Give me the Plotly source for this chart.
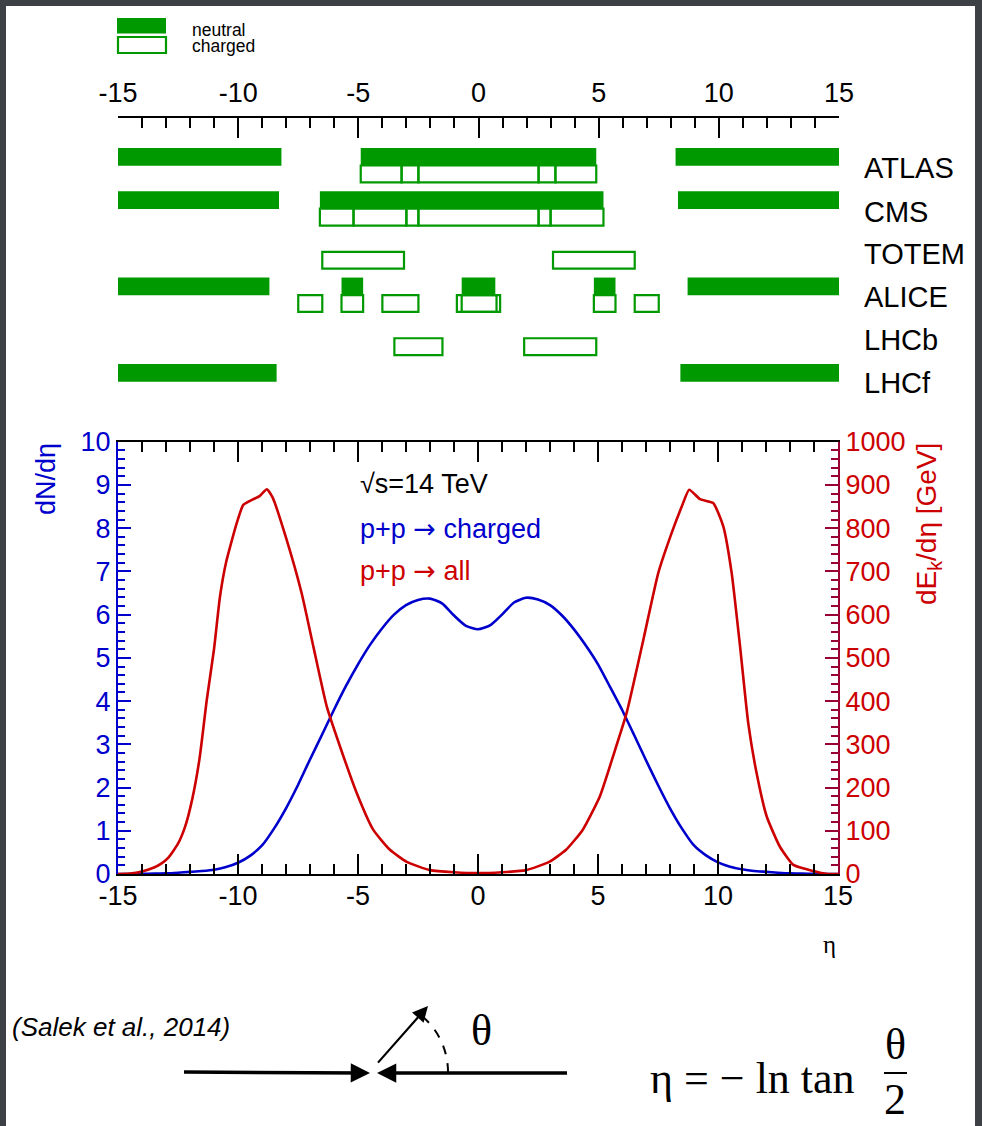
import plotly.graph_objects as go

W, H = 982, 1126


def px(x):
    return x / W


def py(y):
    return 1 - y / H


# ---------------- data ----------------
eta_ticks = [-15, -10, -5, 0, 5, 10, 15]
eta_tick_labels = ["-15", "-10", "-5", "0", "5", "10", "15"]

experiments = ["ATLAS", "CMS", "TOTEM", "ALICE", "LHCb", "LHCf"]

# acceptance ranges (eta_min, eta_max)
atlas_neutral = [(-15, -8.2), (-4.9, 4.9), (8.2, 15)]
atlas_charged = [(-4.9, -3.2), (-3.2, -2.5), (-2.5, 2.5), (2.5, 3.2), (3.2, 4.9)]
cms_neutral = [(-15, -8.3), (-6.6, 5.2), (8.3, 15)]
cms_charged = [(-6.6, -5.2), (-5.2, -3.0), (-3.0, -2.5), (-2.5, 2.5), (2.5, 3.0), (3.0, 5.2)]
totem_neutral = []
totem_charged = [(-6.5, -3.1), (3.1, 6.5)]
alice_neutral = [(-15, -8.7), (-5.7, -4.8), (-0.7, 0.7), (4.8, 5.7), (8.7, 15)]
alice_charged = [(-7.5, -6.5), (-5.7, -4.8), (-4.0, -2.5), (-0.9, 0.9), (-0.7, 0.75),
                 (4.8, 5.7), (6.5, 7.5)]
lhcb_neutral = []
lhcb_charged = [(-3.5, -1.5), (1.9, 4.9)]
lhcf_neutral = [(-15, -8.4), (8.4, 15)]
lhcf_charged = []

neutral_rows = [atlas_neutral, cms_neutral, totem_neutral, alice_neutral, lhcb_neutral, lhcf_neutral]
charged_rows = [atlas_charged, cms_charged, totem_charged, alice_charged, lhcb_charged, lhcf_charged]

# dN/deta (charged), pp 14 TeV
eta_ch = [-15, -14.5, -14, -13.5, -13, -12.5, -12, -11.5, -11, -10.5, -10, -9.5, -9, -8.5,
          -8, -7.5, -7, -6.5, -6, -5.5, -5, -4.5, -4, -3.5, -3, -2.5, -2, -1.5, -1, -0.5, 0,
          0.5, 1, 1.5, 2, 2.5, 3, 3.5, 4, 4.5, 5, 5.5, 6, 6.5, 7, 7.5, 8, 8.5, 9, 9.5, 10,
          10.5, 11, 11.5, 12, 12.5, 13, 13.5, 14, 14.5, 15]
dn_deta = [0, 0, 0.005, 0.01, 0.015, 0.03, 0.05, 0.07, 0.10, 0.16, 0.26, 0.42, 0.66, 1.05,
           1.52, 2.06, 2.65, 3.22, 3.80, 4.35, 4.85, 5.30, 5.68, 6.00, 6.22, 6.34, 6.37, 6.26,
           5.98, 5.74, 5.66,
           5.75, 6.00, 6.28, 6.39, 6.35, 6.22, 5.98, 5.66, 5.28, 4.85, 4.33, 3.80, 3.22, 2.63,
           2.06, 1.52, 1.05, 0.66, 0.43, 0.27, 0.17, 0.11, 0.07, 0.05, 0.03, 0.015, 0.01,
           0.005, 0, 0]

# dE_k/deta (all), GeV
eta_all = [-15, -14.5, -14, -13.5, -13.2, -12.9, -12.5, -12.2, -11.9, -11.6, -11.3, -11.0,
           -10.75, -10.5, -10.05, -9.78, -9.4, -9.1, -8.8, -8.55, -8.0, -7.35, -6.86, -6.3,
           -5.75, -5.05, -4.36, -3.67, -2.97, -2.0, -1.0, 0,
           1.0, 2.0, 2.97, 3.67, 4.36, 5.08, 5.7, 6.19, 6.89, 7.51, 8.07, 8.49, 8.8, 9.25,
           9.8, 10.22, 10.57, 10.92, 11.26, 11.61, 12.03, 12.58, 13.14, 13.7, 14.25, 14.6, 15]
de_deta = [0, 1, 6, 15, 24, 38, 70, 110, 175, 268, 403, 520,
           642, 720, 812, 854, 866, 874, 890, 870, 778, 650, 526, 387,
           295, 187, 102, 56, 28, 9, 4, 2,
           4, 9, 28, 56, 102, 180, 285, 372, 542, 696, 789, 850, 889, 867,
           858, 804, 696, 526, 349, 233, 133, 63, 21, 11, 3, 0, 0]

GREEN = "#009900"
BLUE = "#0000cc"
RED = "#cc0000"
MAROON = "#990033"
SANS = "Liberation Sans, Arial, sans-serif"
SERIF = "Liberation Serif, Times New Roman, serif"
TICK = 27
ARROW = '<span style="font-family:DejaVu Sans">→</span>'

fig = go.Figure()

# ---------------- acceptance bars ----------------
ny, nx, nb, nw = [], [], [], []
cy, cx, cb, cw = [], [], [], []
for i, rngs in enumerate(neutral_rows):
    for a, b in rngs:
        ny.append(i - 0.2)
        nb.append(a)
        nx.append(b - a)
        nw.append(0.41)
for i, rngs in enumerate(charged_rows):
    for a, b in rngs:
        cy.append(i + 0.195)
        cb.append(a)
        cx.append(b - a)
        cw.append(0.39)

fig.add_trace(go.Bar(orientation="h", y=ny, x=nx, base=nb, width=nw,
                     marker=dict(color=GREEN, line=dict(width=0)),
                     xaxis="x2", yaxis="y2", hoverinfo="skip"))
fig.add_trace(go.Bar(orientation="h", y=cy, x=cx, base=cb, width=cw,
                     marker=dict(color="rgba(0,0,0,0)", line=dict(color=GREEN, width=2.2)),
                     xaxis="x2", yaxis="y2", hoverinfo="skip"))

# ---------------- curves ----------------
fig.add_trace(go.Scatter(x=eta_ch, y=dn_deta, mode="lines",
                         line=dict(color=BLUE, width=2.6, shape="spline", smoothing=0.6),
                         xaxis="x", yaxis="y"))
fig.add_trace(go.Scatter(x=eta_all, y=de_deta, mode="lines",
                         line=dict(color=RED, width=2.6, shape="spline", smoothing=0.5),
                         xaxis="x", yaxis="y3"))

# ---------------- layout ----------------
fig.update_layout(
    width=W, height=H, autosize=False,
    margin=dict(l=0, r=0, t=0, b=0, pad=0, autoexpand=False),
    paper_bgcolor="#3d4045",
    plot_bgcolor="rgba(0,0,0,0)",
    showlegend=False,
    barmode="overlay",
    font=dict(family=SANS, color="black"),
    xaxis=dict(domain=[px(118), px(838)], range=[-15, 15], anchor="y", automargin=False,
               showline=True, linecolor="black", linewidth=2, mirror="ticks",
               ticks="inside", ticklen=20, tickwidth=1.5, tickcolor="black",
               tickmode="array", tickvals=eta_ticks, ticktext=eta_tick_labels,
               tickfont=dict(size=TICK, color="black", family=SANS),
               ticklabelstandoff=-3,
               minor=dict(ticks="inside", ticklen=10, dtick=1, tick0=-15,
                          tickcolor="black", tickwidth=1.5),
               showgrid=False, zeroline=False),
    yaxis=dict(domain=[py(874), py(441.7)], range=[0, 10], anchor="x", automargin=False,
               showline=True, linecolor=BLUE, linewidth=2,
               ticks="inside", ticklen=13, tickwidth=1.5, tickcolor=BLUE, dtick=1,
               tickfont=dict(size=TICK, color=BLUE, family=SANS),
               minor=dict(ticks="inside", ticklen=7, dtick=0.2, tickcolor=BLUE, tickwidth=1.5),
               showgrid=False, zeroline=False),
    yaxis3=dict(overlaying="y", side="right", anchor="x", range=[0, 1000], automargin=False,
                showline=True, linecolor=MAROON, linewidth=2,
                ticks="inside", ticklen=13, tickwidth=1.5, tickcolor=MAROON, dtick=100,
                tickfont=dict(size=TICK, color=RED, family=SANS),
                minor=dict(ticks="inside", ticklen=7, dtick=20, tickcolor=MAROON, tickwidth=1.5),
                showgrid=False, zeroline=False),
    xaxis2=dict(domain=[px(118), px(839)], range=[-15, 15], anchor="y2", side="top",
                automargin=False,
                showline=True, linecolor="black", linewidth=1.5,
                ticks="inside", ticklen=20, tickwidth=1.5, tickcolor="black",
                tickmode="array", tickvals=eta_ticks, ticktext=eta_tick_labels,
                tickfont=dict(size=TICK, color="black", family=SANS),
                ticklabelstandoff=3,
                minor=dict(ticks="inside", ticklen=10, dtick=1, tick0=-15,
                           tickcolor="black", tickwidth=1.5),
                showgrid=False, zeroline=False),
    yaxis2=dict(domain=[py(400), py(118)], range=[5.43, -1.10], anchor="x2",
                automargin=False, visible=False, showgrid=False, zeroline=False),
)

shapes = []
# white slide area
shapes.append(dict(type="rect", xref="paper", yref="paper", layer="below",
                   x0=px(6), x1=px(975), y0=py(1126), y1=py(6),
                   fillcolor="white", line=dict(width=0)))
# legend swatches
shapes.append(dict(type="rect", xref="paper", yref="paper",
                   x0=px(117), x1=px(166), y0=py(33.5), y1=py(18),
                   fillcolor=GREEN, line=dict(width=0)))
shapes.append(dict(type="rect", xref="paper", yref="paper",
                   x0=px(118), x1=px(166), y0=py(53), y1=py(37),
                   fillcolor="rgba(0,0,0,0)", line=dict(color=GREEN, width=2.2)))
# dashed angle arc
P = [(448, 1072), (448, 1050), (438.1, 1029.1), (421, 1015.3)]
path = "M {},{} C {},{} {},{} {},{}".format(
    px(P[0][0]), py(P[0][1]), px(P[1][0]), py(P[1][1]),
    px(P[2][0]), py(P[2][1]), px(P[3][0]), py(P[3][1]))
shapes.append(dict(type="path", xref="paper", yref="paper", path=path,
                   line=dict(color="black", width=2, dash="dash")))
# fraction bar
shapes.append(dict(type="line", xref="paper", yref="paper",
                   x0=px(884), x1=px(907), y0=py(1073), y1=py(1073),
                   line=dict(color="black", width=2)))
fig.update_layout(shapes=shapes)

ann = []


def text(x, y, s, size, color="black", family=SANS, xanchor="left", yanchor="middle",
         angle=0):
    ann.append(dict(x=px(x), y=py(y), xref="paper", yref="paper", text=s, showarrow=False,
                    xanchor=xanchor, yanchor=yanchor, textangle=angle,
                    font=dict(size=size, color=color, family=family)))


text(190, 30, "neutral", 17.5)
text(190, 46, "charged", 17.5)
row_label_y = [168, 212, 254, 297, 340, 383]
for name, yy in zip(experiments, row_label_y):
    text(862, yy, name, 29)

text(358, 484, "√s=14 TeV", 27)
text(358, 528, "p+p " + ARROW + " charged", 27, BLUE)
text(358, 570, "p+p " + ARROW + " all", 27, RED)

text(46, 479, "dN/dη", 27, BLUE, xanchor="center", angle=-90)
text(928, 524, "dE<sub>k</sub>/dη [GeV]", 28, RED, xanchor="center", angle=-90)
text(829, 944, "η", 25, family=SERIF, xanchor="center")

ann.append(dict(x=px(10), y=py(1027), xref="paper", yref="paper",
                text="<i>(Salek et al., 2014)</i>", showarrow=False, xanchor="left",
                yanchor="middle", font=dict(size=26, color="black", family=SANS)))

text(481, 1030, "θ", 44, family=SERIF, xanchor="center")
text(648, 1078, "η = − ln tan", 44, family=SERIF)
text(895, 1044, "θ", 44, family=SERIF, xanchor="center")
text(895, 1099, "2", 44, family=SERIF, xanchor="center")

# arrows
ann.append(dict(x=px(370), y=py(1073), xref="paper", yref="paper", text=" ",
                showarrow=True, ax=-189, ay=-1, axref="pixel", ayref="pixel",
                arrowhead=2, arrowsize=1.1, arrowwidth=3.5, arrowcolor="black", standoff=0))
ann.append(dict(x=px(377), y=py(1073), xref="paper", yref="paper", text=" ",
                showarrow=True, ax=193, ay=0, axref="pixel", ayref="pixel",
                arrowhead=2, arrowsize=1.1, arrowwidth=3.5, arrowcolor="black", standoff=0))
ann.append(dict(x=px(428), y=py(1006), xref="paper", yref="paper", text=" ",
                showarrow=True, ax=-53, ay=60, axref="pixel", ayref="pixel",
                arrowhead=2, arrowsize=1.4, arrowwidth=2.2, arrowcolor="black", standoff=0))

fig.update_layout(annotations=ann)

fig.write_html("out.html")
